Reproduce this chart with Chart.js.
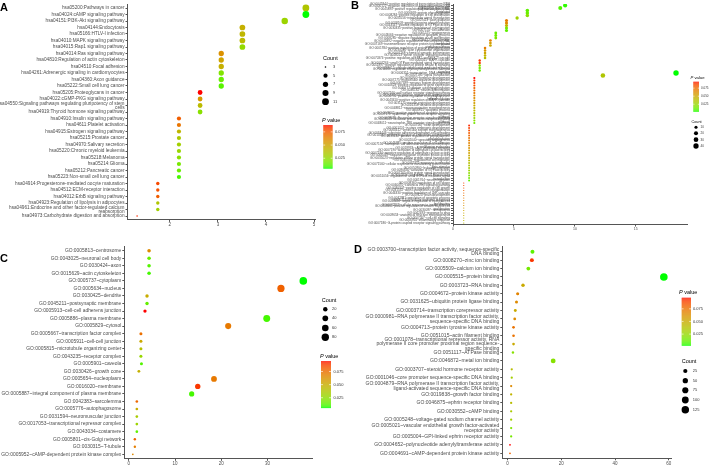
<!DOCTYPE html>
<html>
<head>
<meta charset="utf-8">
<script src="https://cdn.jsdelivr.net/npm/chart.js@4.4.1/dist/chart.umd.min.js"></script>
<style>
  body { margin: 0; background: #fff; }
  #wrap { position: relative; width: 709px; height: 466px; overflow: hidden; background: #fff; }
  canvas { position: absolute; }
  .tag { position: absolute; font: bold 11px "Liberation Sans", Arial, sans-serif; line-height: 11px; color: #000; }
</style>
</head>
<body>
<div id="wrap">
  <canvas id="chart-a" width="354" height="233" style="left:0;top:0"></canvas>
  <canvas id="chart-b" width="355" height="233" style="left:354px;top:0"></canvas>
  <canvas id="chart-c" width="354" height="233" style="left:0;top:233px"></canvas>
  <canvas id="chart-d" width="355" height="233" style="left:354px;top:233px"></canvas>
  <div class="tag" style="left:0;top:2px">A</div>
  <div class="tag" style="left:351px;top:0">B</div>
  <div class="tag" style="left:0;top:253px">C</div>
  <div class="tag" style="left:354px;top:244px">D</div>
</div>
<script>
// ---- panel A : KEGG pathways ----
const aLabels = [
  "hsa05200:Pathways in cancer", "hsa04024:cAMP signaling pathway", "hsa04151:PI3K-Akt signaling pathway",
  "hsa04144:Endocytosis", "hsa05166:HTLV-I infection", "hsa04010:MAPK signaling pathway",
  "hsa04015:Rap1 signaling pathway", "hsa04014:Ras signaling pathway", "hsa04810:Regulation of actin cytoskeleton",
  "hsa04510:Focal adhesion", "hsa04261:Adrenergic signaling in cardiomyocytes", "hsa04360:Axon guidance",
  "hsa05222:Small cell lung cancer", "hsa05205:Proteoglycans in cancer", "hsa04022:cGMP-PKG signaling pathway",
  "hsa04550:Signaling pathways regulating pluripotency of stem cells", "hsa04919:Thyroid hormone signaling pathway",
  "hsa04910:Insulin signaling pathway", "hsa04611:Platelet activation", "hsa04915:Estrogen signaling pathway",
  "hsa05215:Prostate cancer", "hsa04970:Salivary secretion", "hsa05220:Chronic myeloid leukemia",
  "hsa05218:Melanoma", "hsa05214:Glioma", "hsa05212:Pancreatic cancer", "hsa05223:Non-small cell lung cancer",
  "hsa04914:Progesterone-mediated oocyte maturation", "hsa04512:ECM-receptor interaction",
  "hsa04012:ErbB signaling pathway", "hsa04923:Regulation of lipolysis in adipocytes",
  "hsa04961:Endocrine and other factor-regulated calcium reabsorption", "hsa04973:Carbohydrate digestion and absorption"
];
const aX = [4.83, 4.83, 4.39, 3.51, 3.51, 3.51, 3.51, 3.07, 3.07, 3.07, 3.07, 3.07, 3.07, 2.63, 2.63, 2.63, 2.63,
  2.19, 2.19, 2.19, 2.19, 2.19, 2.19, 2.19, 2.19, 2.19, 2.19, 1.75, 1.75, 1.75, 1.75, 1.75, 1.32];
const aCount = [11, 11, 10, 8, 8, 8, 8, 7, 7, 7, 7, 7, 7, 6, 6, 6, 6, 5, 5, 5, 5, 5, 5, 5, 5, 5, 5, 4, 4, 4, 4, 4, 3];
const aP = [0.035, 0.006, 0.028, 0.045, 0.042, 0.040, 0.025, 0.058, 0.050, 0.045, 0.020, 0.015, 0.012, 0.088, 0.055,
  0.040, 0.022, 0.075, 0.068, 0.042, 0.033, 0.030, 0.027, 0.022, 0.018, 0.015, 0.010, 0.080, 0.078, 0.075, 0.035, 0.030, 0.085];
const aXTicks = [2, 3, 4, 5];
const aCountBreaks = [3, 5, 7, 9, 11];

// ---- panel B : GO biological process ----
const bLabels = [
  "GO:0045944~positive regulation of transcription from RNA polymerase II promoter",
  "GO:0000122~negative regulation of transcription from RNA polymerase II promoter",
  "GO:0045893~positive regulation of transcription, DNA-templated",
  "GO:0006468~protein phosphorylation", "GO:0008284~positive regulation of cell proliferation",
  "GO:0035556~intracellular signal transduction", "GO:0007411~axon guidance",
  "GO:0018108~peptidyl-tyrosine phosphorylation", "GO:0043547~positive regulation of GTPase activity",
  "GO:0030335~positive regulation of cell migration", "GO:0007155~cell adhesion", "GO:0001525~angiogenesis",
  "GO:0043066~negative regulation of apoptotic process", "GO:0008285~negative regulation of cell proliferation",
  "GO:0016477~cell migration", "GO:0045892~negative regulation of transcription, DNA-templated",
  "GO:0007169~transmembrane receptor protein tyrosine kinase signaling pathway",
  "GO:0001934~positive regulation of protein phosphorylation", "GO:0030036~actin cytoskeleton organization",
  "GO:0007268~chemical synaptic transmission", "GO:0048013~ephrin receptor signaling pathway",
  "GO:0070374~positive regulation of ERK1 and ERK2 cascade", "GO:0000165~MAPK cascade",
  "GO:0007264~small GTPase mediated signal transduction", "GO:0051897~positive regulation of protein kinase B signaling",
  "GO:0048015~phosphatidylinositol-mediated signaling", "GO:0014066~regulation of phosphatidylinositol 3-kinase signaling",
  "GO:0006351~transcription, DNA-templated", "GO:0007165~signal transduction", "GO:0030900~forebrain development",
  "GO:0007275~multicellular organism development", "GO:0007399~nervous system development",
  "GO:0010628~positive regulation of gene expression", "GO:0046777~protein autophosphorylation",
  "GO:0030182~neuron differentiation", "GO:0007166~cell surface receptor signaling pathway",
  "GO:0045766~positive regulation of angiogenesis", "GO:0050731~positive regulation of peptidyl-tyrosine phosphorylation",
  "GO:0043410~positive regulation of MAPK cascade", "GO:0031175~neuron projection development",
  "GO:0016358~dendrite development", "GO:0048812~neuron projection morphogenesis", "GO:0006915~apoptotic process",
  "GO:0043065~positive regulation of apoptotic process", "GO:0007173~epidermal growth factor receptor signaling pathway",
  "GO:0038095~Fc-epsilon receptor signaling pathway", "GO:0008543~fibroblast growth factor receptor signaling pathway",
  "GO:0048011~neurotrophin TRK receptor signaling pathway", "GO:0007507~heart development",
  "GO:0001701~in utero embryonic development", "GO:0060412~ventricular septum morphogenesis",
  "GO:0034446~substrate adhesion-dependent cell spreading", "GO:0010595~positive regulation of endothelial cell migration",
  "GO:0033138~positive regulation of peptidyl-serine phosphorylation", "GO:0002040~sprouting angiogenesis",
  "GO:0045785~positive regulation of cell adhesion",
  "GO:0007156~homophilic cell adhesion via plasma membrane adhesion molecules", "GO:0019933~cAMP-mediated signaling",
  "GO:0007190~activation of adenylate cyclase activity", "GO:0007194~negative regulation of adenylate cyclase activity",
  "GO:0006469~negative regulation of protein kinase activity", "GO:0035023~regulation of Rho protein signal transduction",
  "GO:0030334~regulation of cell migration", "GO:0032355~response to estradiol",
  "GO:0071560~cellular response to transforming growth factor beta stimulus", "GO:0050900~leukocyte migration",
  "GO:0090630~activation of GTPase activity", "GO:0007265~Ras protein signal transduction",
  "GO:0043087~regulation of GTPase activity", "GO:0051056~regulation of small GTPase mediated signal transduction",
  "GO:0001764~neuron migration", "GO:0008360~regulation of cell shape", "GO:0060070~canonical Wnt signaling pathway",
  "GO:0030307~positive regulation of cell growth", "GO:0031532~actin cytoskeleton reorganization",
  "GO:0046330~positive regulation of JNK cascade", "GO:0007420~brain development",
  "GO:0042981~regulation of apoptotic process", "GO:0071456~cellular response to hypoxia",
  "GO:0050680~negative regulation of epithelial cell proliferation", "GO:0032869~cellular response to insulin stimulus",
  "GO:0048661~positive regulation of smooth muscle cell proliferation", "GO:0030097~hemopoiesis",
  "GO:0042493~response to drug", "GO:0009653~anatomical structure morphogenesis", "GO:0007267~cell-cell signaling",
  "GO:0006954~inflammatory response", "GO:0007186~G-protein coupled receptor signaling pathway"
];
const bX = [9.2, 8.8, 6.1, 6.1, 6.1, 5.26, 4.39, 4.39, 4.39, 4.39, 4.39, 3.51, 3.51, 3.51, 3.07, 3.07, 3.07,
  2.63, 2.63, 2.63, 2.63, 2.63, 2.19, 2.19, 2.19, 2.19, 2.19, 18.3, 12.3,
  1.75, 1.75, 1.75, 1.75, 1.75, 1.75, 1.75, 1.75, 1.75, 1.75, 1.75, 1.75, 1.75, 1.75, 1.75, 1.75, 1.75, 1.75, 1.75,
  1.32, 1.32, 1.32, 1.32, 1.32, 1.32, 1.32, 1.32, 1.32, 1.32, 1.32, 1.32, 1.32, 1.32, 1.32, 1.32, 1.32, 1.32, 1.32, 1.32, 1.32, 1.32, 1.32,
  0.88, 0.88, 0.88, 0.88, 0.88, 0.88, 0.88, 0.88, 0.88, 0.88, 0.88, 0.88, 0.88, 0.88, 0.88, 0.88, 0.88];
const bCount = [21, 20, 14, 14, 14, 12, 10, 10, 10, 10, 10, 8, 8, 8, 7, 7, 7, 6, 6, 6, 6, 6, 5, 5, 5, 5, 5, 42, 28,
  4, 4, 4, 4, 4, 4, 4, 4, 4, 4, 4, 4, 4, 4, 4, 4, 4, 4, 4,
  3, 3, 3, 3, 3, 3, 3, 3, 3, 3, 3, 3, 3, 3, 3, 3, 3, 3, 3, 3, 3, 3, 3,
  2, 2, 2, 2, 2, 2, 2, 2, 2, 2, 2, 2, 2, 2, 2, 2, 2];
const bP = [0.004, 0.008, 0.010, 0.012, 0.020, 0.028, 0.070, 0.065, 0.045, 0.015, 0.010, 0.012, 0.014, 0.017,
  0.068, 0.055, 0.050, 0.070, 0.058, 0.052, 0.045, 0.040, 0.090, 0.088, 0.020, 0.016, 0.012, 0.002, 0.035,
  0.095, 0.091, 0.086, 0.083, 0.078, 0.075, 0.071, 0.066, 0.063, 0.058, 0.055, 0.050, 0.047, 0.042, 0.039, 0.033, 0.028, 0.021, 0.015,
  0.092, 0.088, 0.085, 0.080, 0.078, 0.073, 0.071, 0.066, 0.064, 0.060, 0.055, 0.053, 0.049, 0.046, 0.041, 0.038, 0.035, 0.030, 0.027, 0.022, 0.019, 0.014, 0.010,
  0.089, 0.086, 0.083, 0.079, 0.077, 0.072, 0.070, 0.067, 0.063, 0.061, 0.057, 0.054, 0.051, 0.048, 0.046, 0.043, 0.040];
const bXTicks = [0, 5, 10, 15];
const bCountBreaks = [10, 20, 30, 40];

// ---- panel C : GO cellular component ----
const cLabels = [
  "GO:0005813~centrosome", "GO:0043025~neuronal cell body", "GO:0030424~axon", "GO:0015629~actin cytoskeleton",
  "GO:0005737~cytoplasm", "GO:0005634~nucleus", "GO:0030425~dendrite", "GO:0045211~postsynaptic membrane",
  "GO:0005913~cell-cell adherens junction", "GO:0005886~plasma membrane", "GO:0005829~cytosol",
  "GO:0005667~transcription factor complex", "GO:0005911~cell-cell junction", "GO:0005815~microtubule organizing center",
  "GO:0043235~receptor complex", "GO:0005901~caveola", "GO:0030426~growth cone", "GO:0005654~nucleoplasm",
  "GO:0016020~membrane", "GO:0005887~integral component of plasma membrane", "GO:0042383~sarcolemma",
  "GO:0005776~autophagosome", "GO:0031594~neuromuscular junction", "GO:0017053~transcriptional repressor complex",
  "GO:0043034~costamere", "GO:0005801~cis-Golgi network", "GO:0030315~T-tubule",
  "GO:0005952~cAMP-dependent protein kinase complex"
];
const cX = [4.39, 4.39, 4.39, 4.39, 37.72, 32.89, 3.95, 3.95, 3.51, 29.82, 21.49, 2.63, 2.63, 2.63, 2.63, 2.75,
  2.19, 18.42, 14.91, 13.6, 1.75, 1.75, 1.75, 1.75, 1.75, 1.32, 1.32, 0.88];
const cCount = [10, 10, 10, 10, 86, 75, 9, 9, 8, 68, 49, 6, 6, 6, 6, 6, 5, 42, 34, 31, 4, 4, 4, 4, 4, 3, 3, 2];
const cP = [0.065, 0.015, 0.012, 0.010, 0.006, 0.080, 0.050, 0.015, 0.095, 0.010, 0.072, 0.075, 0.052, 0.040,
  0.028, 0.012, 0.048, 0.072, 0.090, 0.010, 0.078, 0.050, 0.035, 0.030, 0.014, 0.080, 0.070, 0.065];
const cXTicks = [0, 10, 20, 30];
const cCountBreaks = [20, 40, 60, 80];

// ---- panel D : GO molecular function ----
const dLabels = [
  "GO:0003700~transcription factor activity, sequence-specific DNA binding", "GO:0008270~zinc ion binding",
  "GO:0005509~calcium ion binding", "GO:0005515~protein binding", "GO:0003723~RNA binding",
  "GO:0004672~protein kinase activity", "GO:0031625~ubiquitin protein ligase binding",
  "GO:0003714~transcription corepressor activity",
  "GO:0000981~RNA polymerase II transcription factor activity, sequence-specific DNA binding",
  "GO:0004713~protein tyrosine kinase activity", "GO:0051015~actin filament binding",
  "GO:0001078~transcriptional repressor activity, RNA polymerase II core promoter proximal region sequence-specific binding",
  "GO:0051117~ATPase binding", "GO:0046872~metal ion binding", "GO:0003707~steroid hormone receptor activity",
  "GO:0001046~core promoter sequence-specific DNA binding",
  "GO:0004879~RNA polymerase II transcription factor activity, ligand-activated sequence-specific DNA binding",
  "GO:0019838~growth factor binding", "GO:0046875~ephrin receptor binding", "GO:0030552~cAMP binding",
  "GO:0005248~voltage-gated sodium channel activity",
  "GO:0005021~vascular endothelial growth factor-activated receptor activity",
  "GO:0005004~GPI-linked ephrin receptor activity", "GO:0004652~polynucleotide adenylyltransferase activity",
  "GO:0004691~cAMP-dependent protein kinase activity"
];
const dX = [9.25, 9.03, 7.71, 58.15, 5.73, 3.74, 3.3, 2.86, 2.64, 2.2, 2.2, 2.2, 1.98, 16.96, 1.54, 1.54,
  1.32, 1.32, 1.32, 1.32, 1.32, 1.32, 1.32, 0.88, 0.88];
const dCount = [21, 20, 17, 132, 13, 9, 8, 7, 6, 5, 5, 5, 4, 38, 3, 3, 3, 3, 3, 3, 3, 3, 3, 2, 2];
const dP = [0.010, 0.092, 0.015, 0.002, 0.050, 0.068, 0.065, 0.050, 0.065, 0.075, 0.075, 0.050, 0.020, 0.020,
  0.040, 0.030, 0.065, 0.045, 0.040, 0.033, 0.030, 0.018, 0.015, 0.097, 0.080];
const dXTicks = [0, 20, 40, 60];
const dCountBreaks = [25, 50, 75, 100, 125];

const pBreaks = [0.075, 0.05, 0.025];

const FONT = '"Liberation Sans", Arial, Helvetica, sans-serif';
const AXIS = '#555';
const TEXT = '#4d4d4d';

// colour scale: green (low P) -> red (high P), interpolated in Lab like ggplot
function toLab(rgb) {
  const [r, g, b] = rgb.map(c => { c /= 255; return c <= 0.04045 ? c / 12.92 : Math.pow((c + 0.055) / 1.055, 2.4); });
  const X = (r * 0.4124 + g * 0.3576 + b * 0.1805) / 0.95047;
  const Y = r * 0.2126 + g * 0.7152 + b * 0.0722;
  const Z = (r * 0.0193 + g * 0.1192 + b * 0.9505) / 1.08883;
  const f = t => t > 0.008856 ? Math.cbrt(t) : 7.787 * t + 16 / 116;
  return [116 * f(Y) - 16, 500 * (f(X) - f(Y)), 200 * (f(Y) - f(Z))];
}
function fromLab([L, a, b]) {
  const fy = (L + 16) / 116, fx = fy + a / 500, fz = fy - b / 200;
  const inv = t => t * t * t > 0.008856 ? t * t * t : (t - 16 / 116) / 7.787;
  const X = inv(fx) * 0.95047, Y = inv(fy), Z = inv(fz) * 1.08883;
  const lin = [X * 3.2406 - Y * 1.5372 - Z * 0.4986, -X * 0.9689 + Y * 1.8758 + Z * 0.0415, X * 0.0557 - Y * 0.2040 + Z * 1.0570];
  const out = lin.map(c => {
    c = c <= 0.0031308 ? 12.92 * c : 1.055 * Math.pow(c, 1 / 2.4) - 0.055;
    return Math.round(Math.max(0, Math.min(1, c)) * 255);
  });
  return `rgb(${out[0]},${out[1]},${out[2]})`;
}
const LOW = toLab([0, 255, 0]), HIGH = toLab([255, 0, 0]);
function pColor(p, lo, hi) {
  const t = Math.max(0, Math.min(1, (p - lo) / (hi - lo)));
  return fromLab(LOW.map((v, i) => v + t * (HIGH[i] - v)));
}

// like str_wrap(width = 60), also breaking after hyphens
function wrap(s, w) {
  const tokens = [];
  s.split(' ').forEach(word => word.split(/(?<=-)/).forEach((t, i) => tokens.push({ t, sp: i === 0 })));
  const lines = [];
  let cur = '';
  tokens.forEach(({ t, sp }) => {
    const add = cur ? (sp ? ' ' : '') + t : t;
    if (cur && (cur + add).length > w) { lines.push(cur); cur = t; } else { cur += add; }
  });
  lines.push(cur);
  return lines.length > 1 ? lines : s;
}

function radiusFn(counts, R) {
  const lo = Math.min(...counts), hi = Math.max(...counts);
  return c => {
    const t = Math.max(0, (c - lo) / (hi - lo));
    return R * (1 + 5 * Math.sqrt(t) + 0.5) / 6.5;
  };
}

function drawCountLegend(ctx, L, rad, breaks) {
  ctx.fillStyle = '#000';
  ctx.textBaseline = 'middle';
  ctx.textAlign = 'left';
  ctx.font = `${L.titleSize}px ${FONT}`;
  ctx.fillText('Count', L.tx, L.ty);
  ctx.font = `${L.labSize}px ${FONT}`;
  breaks.forEach((b, i) => {
    ctx.fillStyle = '#000';
    ctx.beginPath();
    ctx.arc(L.dotX, L.ys[i], rad(b), 0, Math.PI * 2);
    ctx.fill();
    ctx.fillStyle = '#333';
    ctx.fillText(String(b), L.labX, L.ys[i]);
  });
}

function drawPLegend(ctx, L, lo, hi) {
  ctx.fillStyle = '#000';
  ctx.textBaseline = 'middle';
  ctx.textAlign = 'left';
  ctx.font = `italic ${L.titleSize}px ${FONT}`;
  ctx.fillText('P', L.tx, L.ty);
  const w = ctx.measureText('P ').width;
  ctx.font = `${L.titleSize}px ${FONT}`;
  ctx.fillText('value', L.tx + w, L.ty);
  for (let k = 0; k < L.h; k += 0.5) {
    const p = hi - (k + 0.25) / L.h * (hi - lo);
    ctx.fillStyle = pColor(p, lo, hi);
    ctx.fillRect(L.x, L.y + k, L.w, 0.6);
  }
  ctx.font = `${L.labSize}px ${FONT}`;
  pBreaks.forEach(b => {
    const y = L.y + (hi - b) / (hi - lo) * L.h;
    ctx.strokeStyle = '#fff';
    ctx.lineWidth = 0.6;
    ctx.beginPath();
    ctx.moveTo(L.x, y); ctx.lineTo(L.x + L.w * 0.2, y);
    ctx.moveTo(L.x + L.w * 0.8, y); ctx.lineTo(L.x + L.w, y);
    ctx.stroke();
    ctx.fillStyle = '#333';
    ctx.fillText(b.toFixed(3), L.labX, y);
  });
}

function dotChart(id, o) {
  const lo = Math.min(...o.p), hi = Math.max(...o.p);
  const rad = radiusFn(o.count, o.R);
  const n = o.labels.length;
  return new Chart(document.getElementById(id), {
    type: 'bubble',
    data: {
      datasets: [{
        data: o.x.map((v, i) => ({ x: v, y: i, r: rad(o.count[i]) })),
        backgroundColor: o.p.map(v => pColor(v, lo, hi)),
        borderWidth: 0
      }]
    },
    options: {
      responsive: false,
      animation: false,
      devicePixelRatio: 1,
      events: [],
      layout: { padding: { top: o.top, right: o.right, left: 0, bottom: 0 } },
      plugins: { legend: { display: false }, tooltip: { enabled: false } },
      scales: {
        x: {
          type: 'linear', min: o.xMin, max: o.xMax,
          afterBuildTicks: s => { s.ticks = o.xTicks.map(v => ({ value: v })); },
          afterFit: s => { s.height = o.xH; s.paddingLeft = 0; s.paddingRight = 0; },
          ticks: { autoSkip: false, maxRotation: 0, padding: 0.5, color: TEXT,
            font: { family: FONT, size: o.xFont }, callback: v => String(v) },
          grid: { drawOnChartArea: false, tickLength: 2, color: AXIS },
          border: { color: AXIS, width: 1 }
        },
        y: {
          type: 'linear', reverse: true, min: -0.6, max: n - 0.4,
          afterBuildTicks: s => { s.ticks = o.labels.map((_, i) => ({ value: i })); },
          afterFit: s => { s.width = o.yW; s.paddingTop = 0; s.paddingBottom = 0; },
          ticks: { autoSkip: false, padding: 1, color: TEXT,
            font: { family: FONT, size: o.yFont, lineHeight: 0.95 },
            callback: v => wrap(o.labels[v], 60) },
          grid: { drawOnChartArea: false, tickLength: 2, color: AXIS },
          border: { color: AXIS, width: 1 }
        }
      }
    },
    plugins: [{
      id: 'sideLegend',
      afterDraw(chart) {
        const ctx = chart.ctx;
        ctx.save();
        drawCountLegend(ctx, o.countLegend, rad, o.countBreaks);
        drawPLegend(ctx, o.pLegend, lo, hi);
        ctx.restore();
      }
    }]
  });
}

dotChart('chart-a', {
  labels: aLabels, x: aX, count: aCount, p: aP, xTicks: aXTicks, countBreaks: aCountBreaks,
  R: 3.4, xMin: 1.12, xMax: 5.02, yW: 127.5, right: 39, top: 4.1, xH: 13.1, xFont: 4.5, yFont: 4.7,
  countLegend: { tx: 323, ty: 58, dotX: 325.5, ys: [67, 75.7, 84.3, 93, 101.7], labX: 333, titleSize: 5.5, labSize: 4 },
  pLegend: { tx: 322, ty: 120, x: 323.3, y: 125, w: 9.3, h: 43.3, labX: 335, titleSize: 5.5, labSize: 4 }
});

dotChart('chart-b', {
  labels: bLabels, x: bX, count: bCount, p: bP, xTicks: bXTicks, countBreaks: bCountBreaks,
  R: 2.7, xMin: 0, xMax: 19.2, yW: 99, right: 22, top: 2, xH: 8.5, xFont: 3.5, yFont: 3.1,
  countLegend: { tx: 337.5, ty: 121.7, dotX: 342, ys: [127.3, 133.3, 139.7, 146], labX: 346.5, titleSize: 3.8, labSize: 3 },
  pLegend: { tx: 336.5, ty: 78, x: 339.3, y: 81.7, w: 5.7, h: 30, labX: 347, titleSize: 4.2, labSize: 3 }
});

dotChart('chart-c', {
  labels: cLabels, x: cX, count: cCount, p: cP, xTicks: cXTicks, countBreaks: cCountBreaks,
  R: 3.8, xMin: -0.96, xMax: 39.6, yW: 124.3, right: 42, top: 13.2, xH: 7.2, xFont: 4.5, yFont: 4.9,
  countLegend: { tx: 321.7, ty: 67, dotX: 325.3, ys: [76.3, 85.3, 95, 104.3], labX: 332, titleSize: 5.5, labSize: 4 },
  pLegend: { tx: 320, ty: 123.7, x: 321, y: 128, w: 10, h: 46.7, labX: 333.5, titleSize: 5.5, labSize: 4 }
});

dotChart('chart-d', {
  labels: dLabels, x: dX, count: dCount, p: dP, xTicks: dXTicks, countBreaks: dCountBreaks,
  R: 3.8, xMin: -1.98, xMax: 61.0, yW: 148.3, right: 37.5, top: 13.7, xH: 7.7, xFont: 4.5, yFont: 5.0,
  countLegend: { tx: 327.7, ty: 128.7, dotX: 331.3, ys: [138, 147.7, 157.3, 167, 176.7], labX: 338.7, titleSize: 5.5, labSize: 4 },
  pLegend: { tx: 325, ty: 59, x: 327.7, y: 64.7, w: 9.3, h: 48, labX: 339, titleSize: 5.5, labSize: 4 }
});
</script>
</body>
</html>
